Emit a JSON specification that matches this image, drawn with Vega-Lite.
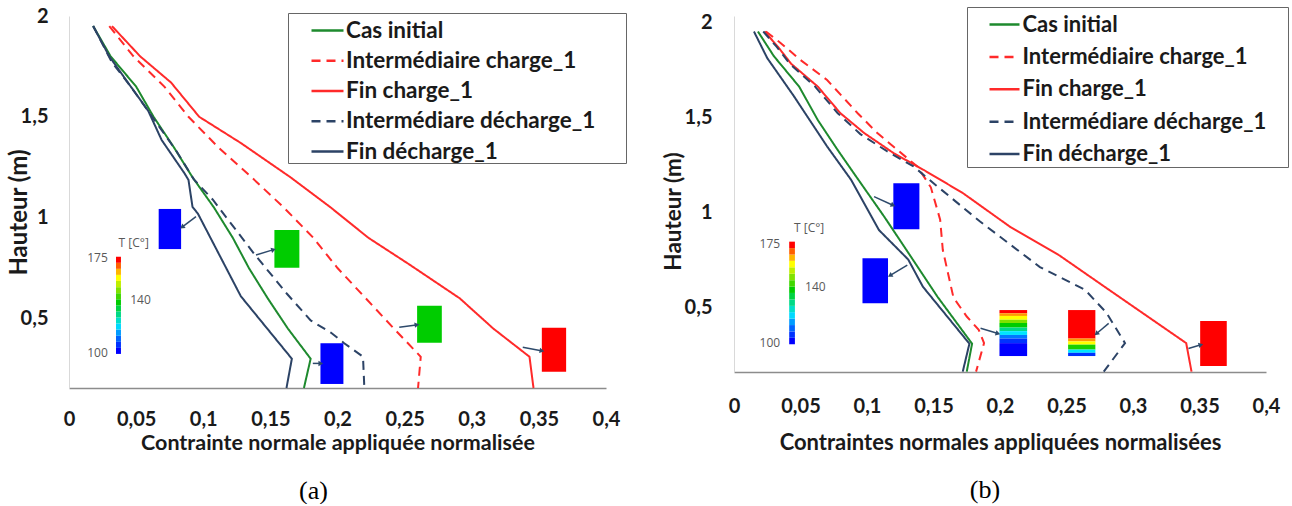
{
  "$schema": "https://vega.github.io/schema/vega-lite/v6.json",
  "background": "#ffffff",
  "padding": {"left": 7, "top": 6, "right": 0, "bottom": 0},
  "spacing": 128,
  "bounds": "flush",
  "config": {"view": {"stroke": null}, "font": "Lato"},
  "resolve": {
    "scale": {"color": "independent", "strokeDash": "independent"},
    "legend": {"color": "independent", "strokeDash": "independent"}
  },
  "datasets": {
    "linesA": [
      {"s": "Cas initial", "x": 0.018, "y": 1.95}, {"s": "Cas initial", "x": 0.031, "y": 1.80}, {"s": "Cas initial", "x": 0.050, "y": 1.65}, {"s": "Cas initial", "x": 0.063, "y": 1.50}, {"s": "Cas initial", "x": 0.078, "y": 1.35}, {"s": "Cas initial", "x": 0.092, "y": 1.20}, {"s": "Cas initial", "x": 0.108, "y": 1.05}, {"s": "Cas initial", "x": 0.122, "y": 0.90}, {"s": "Cas initial", "x": 0.134, "y": 0.75}, {"s": "Cas initial", "x": 0.148, "y": 0.60}, {"s": "Cas initial", "x": 0.163, "y": 0.45}, {"s": "Cas initial", "x": 0.180, "y": 0.30}, {"s": "Cas initial", "x": 0.175, "y": 0.155},
      {"s": "Intermédiaire charge_1", "x": 0.030, "y": 1.95}, {"s": "Intermédiaire charge_1", "x": 0.048, "y": 1.80}, {"s": "Intermédiaire charge_1", "x": 0.071, "y": 1.65}, {"s": "Intermédiaire charge_1", "x": 0.089, "y": 1.50}, {"s": "Intermédiaire charge_1", "x": 0.111, "y": 1.35}, {"s": "Intermédiaire charge_1", "x": 0.136, "y": 1.20}, {"s": "Intermédiaire charge_1", "x": 0.160, "y": 1.05}, {"s": "Intermédiaire charge_1", "x": 0.182, "y": 0.90}, {"s": "Intermédiaire charge_1", "x": 0.200, "y": 0.75}, {"s": "Intermédiaire charge_1", "x": 0.221, "y": 0.60}, {"s": "Intermédiaire charge_1", "x": 0.242, "y": 0.45}, {"s": "Intermédiaire charge_1", "x": 0.262, "y": 0.31}, {"s": "Intermédiaire charge_1", "x": 0.260, "y": 0.155},
      {"s": "Fin charge_1", "x": 0.032, "y": 1.95}, {"s": "Fin charge_1", "x": 0.053, "y": 1.80}, {"s": "Fin charge_1", "x": 0.076, "y": 1.67}, {"s": "Fin charge_1", "x": 0.097, "y": 1.50}, {"s": "Fin charge_1", "x": 0.128, "y": 1.37}, {"s": "Fin charge_1", "x": 0.165, "y": 1.20}, {"s": "Fin charge_1", "x": 0.195, "y": 1.05}, {"s": "Fin charge_1", "x": 0.223, "y": 0.90}, {"s": "Fin charge_1", "x": 0.253, "y": 0.77}, {"s": "Fin charge_1", "x": 0.291, "y": 0.60}, {"s": "Fin charge_1", "x": 0.316, "y": 0.45}, {"s": "Fin charge_1", "x": 0.343, "y": 0.31}, {"s": "Fin charge_1", "x": 0.346, "y": 0.155},
      {"s": "Intermédiare décharge_1", "x": 0.018, "y": 1.95}, {"s": "Intermédiare décharge_1", "x": 0.032, "y": 1.77}, {"s": "Intermédiare décharge_1", "x": 0.046, "y": 1.65}, {"s": "Intermédiare décharge_1", "x": 0.062, "y": 1.50}, {"s": "Intermédiare décharge_1", "x": 0.080, "y": 1.33}, {"s": "Intermédiare décharge_1", "x": 0.093, "y": 1.19}, {"s": "Intermédiare décharge_1", "x": 0.107, "y": 1.09}, {"s": "Intermédiare décharge_1", "x": 0.138, "y": 0.82}, {"s": "Intermédiare décharge_1", "x": 0.162, "y": 0.625}, {"s": "Intermédiare décharge_1", "x": 0.180, "y": 0.49}, {"s": "Intermédiare décharge_1", "x": 0.195, "y": 0.43}, {"s": "Intermédiare décharge_1", "x": 0.205, "y": 0.377}, {"s": "Intermédiare décharge_1", "x": 0.219, "y": 0.31}, {"s": "Intermédiare décharge_1", "x": 0.220, "y": 0.155},
      {"s": "Fin décharge_1", "x": 0.018, "y": 1.95}, {"s": "Fin décharge_1", "x": 0.030, "y": 1.80}, {"s": "Fin décharge_1", "x": 0.046, "y": 1.65}, {"s": "Fin décharge_1", "x": 0.059, "y": 1.53}, {"s": "Fin décharge_1", "x": 0.069, "y": 1.385}, {"s": "Fin décharge_1", "x": 0.086, "y": 1.22}, {"s": "Fin décharge_1", "x": 0.089, "y": 1.187}, {"s": "Fin décharge_1", "x": 0.092, "y": 1.053}, {"s": "Fin décharge_1", "x": 0.096, "y": 1.02}, {"s": "Fin décharge_1", "x": 0.128, "y": 0.61}, {"s": "Fin décharge_1", "x": 0.166, "y": 0.30}, {"s": "Fin décharge_1", "x": 0.162, "y": 0.155}
    ],
    "linesB": [
      {"s": "Cas initial", "x": 0.018, "y": 1.95}, {"s": "Cas initial", "x": 0.030, "y": 1.82}, {"s": "Cas initial", "x": 0.049, "y": 1.66}, {"s": "Cas initial", "x": 0.063, "y": 1.484}, {"s": "Cas initial", "x": 0.078, "y": 1.326}, {"s": "Cas initial", "x": 0.090, "y": 1.205}, {"s": "Cas initial", "x": 0.113, "y": 0.975}, {"s": "Cas initial", "x": 0.133, "y": 0.765}, {"s": "Cas initial", "x": 0.153, "y": 0.554}, {"s": "Cas initial", "x": 0.179, "y": 0.307}, {"s": "Cas initial", "x": 0.175, "y": 0.16},
      {"s": "Intermédiaire charge_1", "x": 0.024, "y": 1.95}, {"s": "Intermédiaire charge_1", "x": 0.035, "y": 1.89}, {"s": "Intermédiaire charge_1", "x": 0.050, "y": 1.80}, {"s": "Intermédiaire charge_1", "x": 0.070, "y": 1.695}, {"s": "Intermédiaire charge_1", "x": 0.093, "y": 1.52}, {"s": "Intermédiaire charge_1", "x": 0.108, "y": 1.414}, {"s": "Intermédiaire charge_1", "x": 0.123, "y": 1.326}, {"s": "Intermédiaire charge_1", "x": 0.138, "y": 1.238}, {"s": "Intermédiaire charge_1", "x": 0.148, "y": 1.13}, {"s": "Intermédiaire charge_1", "x": 0.155, "y": 0.96}, {"s": "Intermédiaire charge_1", "x": 0.157, "y": 0.80}, {"s": "Intermédiaire charge_1", "x": 0.165, "y": 0.55}, {"s": "Intermédiaire charge_1", "x": 0.175, "y": 0.45}, {"s": "Intermédiaire charge_1", "x": 0.184, "y": 0.38}, {"s": "Intermédiaire charge_1", "x": 0.188, "y": 0.31}, {"s": "Intermédiaire charge_1", "x": 0.182, "y": 0.16},
      {"s": "Fin charge_1", "x": 0.023, "y": 1.95}, {"s": "Fin charge_1", "x": 0.033, "y": 1.87}, {"s": "Fin charge_1", "x": 0.043, "y": 1.78}, {"s": "Fin charge_1", "x": 0.063, "y": 1.66}, {"s": "Fin charge_1", "x": 0.080, "y": 1.52}, {"s": "Fin charge_1", "x": 0.098, "y": 1.415}, {"s": "Fin charge_1", "x": 0.120, "y": 1.31}, {"s": "Fin charge_1", "x": 0.143, "y": 1.22}, {"s": "Fin charge_1", "x": 0.172, "y": 1.10}, {"s": "Fin charge_1", "x": 0.208, "y": 0.92}, {"s": "Fin charge_1", "x": 0.245, "y": 0.77}, {"s": "Fin charge_1", "x": 0.280, "y": 0.60}, {"s": "Fin charge_1", "x": 0.340, "y": 0.31}, {"s": "Fin charge_1", "x": 0.344, "y": 0.16},
      {"s": "Intermédiare décharge_1", "x": 0.022, "y": 1.95}, {"s": "Intermédiare décharge_1", "x": 0.032, "y": 1.87}, {"s": "Intermédiare décharge_1", "x": 0.042, "y": 1.78}, {"s": "Intermédiare décharge_1", "x": 0.061, "y": 1.66}, {"s": "Intermédiare décharge_1", "x": 0.078, "y": 1.52}, {"s": "Intermédiare décharge_1", "x": 0.095, "y": 1.41}, {"s": "Intermédiare décharge_1", "x": 0.115, "y": 1.32}, {"s": "Intermédiare décharge_1", "x": 0.135, "y": 1.24}, {"s": "Intermédiare décharge_1", "x": 0.152, "y": 1.14}, {"s": "Intermédiare décharge_1", "x": 0.185, "y": 0.95}, {"s": "Intermédiare décharge_1", "x": 0.230, "y": 0.71}, {"s": "Intermédiare décharge_1", "x": 0.264, "y": 0.59}, {"s": "Intermédiare décharge_1", "x": 0.280, "y": 0.47}, {"s": "Intermédiare décharge_1", "x": 0.294, "y": 0.31}, {"s": "Intermédiare décharge_1", "x": 0.278, "y": 0.16},
      {"s": "Fin décharge_1", "x": 0.015, "y": 1.95}, {"s": "Fin décharge_1", "x": 0.025, "y": 1.81}, {"s": "Fin décharge_1", "x": 0.045, "y": 1.61}, {"s": "Fin décharge_1", "x": 0.070, "y": 1.345}, {"s": "Fin décharge_1", "x": 0.088, "y": 1.17}, {"s": "Fin décharge_1", "x": 0.109, "y": 0.905}, {"s": "Fin décharge_1", "x": 0.131, "y": 0.75}, {"s": "Fin décharge_1", "x": 0.142, "y": 0.607}, {"s": "Fin décharge_1", "x": 0.177, "y": 0.307}, {"s": "Fin décharge_1", "x": 0.172, "y": 0.16}
    ],
    "rectA": [
      {"x": 0.0668, "x2": 0.0835, "y": 0.844, "y2": 1.043, "T": 100},
      {"x": 0.153, "x2": 0.1716, "y": 0.752, "y2": 0.939, "T": 140},
      {"x": 0.1873, "x2": 0.2044, "y": 0.175, "y2": 0.377, "T": 100},
      {"x": 0.2593, "x2": 0.2777, "y": 0.380, "y2": 0.563, "T": 140},
      {"x": 0.3522, "x2": 0.3703, "y": 0.236, "y2": 0.454, "T": 175},
      {"x": 0.035, "x2": 0.0387, "y": 0.324, "y2": 0.354, "T": 100},
      {"x": 0.035, "x2": 0.0387, "y": 0.354, "y2": 0.384, "T": 105},
      {"x": 0.035, "x2": 0.0387, "y": 0.384, "y2": 0.414, "T": 110},
      {"x": 0.035, "x2": 0.0387, "y": 0.414, "y2": 0.445, "T": 115},
      {"x": 0.035, "x2": 0.0387, "y": 0.445, "y2": 0.475, "T": 120},
      {"x": 0.035, "x2": 0.0387, "y": 0.475, "y2": 0.505, "T": 125},
      {"x": 0.035, "x2": 0.0387, "y": 0.505, "y2": 0.535, "T": 130},
      {"x": 0.035, "x2": 0.0387, "y": 0.535, "y2": 0.565, "T": 135},
      {"x": 0.035, "x2": 0.0387, "y": 0.565, "y2": 0.595, "T": 140},
      {"x": 0.035, "x2": 0.0387, "y": 0.595, "y2": 0.625, "T": 145},
      {"x": 0.035, "x2": 0.0387, "y": 0.625, "y2": 0.655, "T": 150},
      {"x": 0.035, "x2": 0.0387, "y": 0.655, "y2": 0.686, "T": 155},
      {"x": 0.035, "x2": 0.0387, "y": 0.686, "y2": 0.716, "T": 160},
      {"x": 0.035, "x2": 0.0387, "y": 0.716, "y2": 0.746, "T": 165},
      {"x": 0.035, "x2": 0.0387, "y": 0.746, "y2": 0.776, "T": 170},
      {"x": 0.035, "x2": 0.0387, "y": 0.776, "y2": 0.806, "T": 175}
    ],
    "rectB": [
      {"x": 0.1198, "x2": 0.1394, "y": 0.909, "y2": 1.151, "T": 100},
      {"x": 0.0966, "x2": 0.1158, "y": 0.5195, "y2": 0.756, "T": 100},
      {"x": 0.3505, "x2": 0.3705, "y": 0.189, "y2": 0.426, "T": 175},
      {"x": 0.1996, "x2": 0.2204, "y": 0.467, "y2": 0.484, "T": 175},
      {"x": 0.1996, "x2": 0.2204, "y": 0.453, "y2": 0.467, "T": 167},
      {"x": 0.1996, "x2": 0.2204, "y": 0.433, "y2": 0.453, "T": 160},
      {"x": 0.1996, "x2": 0.2204, "y": 0.416, "y2": 0.433, "T": 150},
      {"x": 0.1996, "x2": 0.2204, "y": 0.392, "y2": 0.416, "T": 140},
      {"x": 0.1996, "x2": 0.2204, "y": 0.373, "y2": 0.392, "T": 130},
      {"x": 0.1996, "x2": 0.2204, "y": 0.353, "y2": 0.373, "T": 121},
      {"x": 0.1996, "x2": 0.2204, "y": 0.334, "y2": 0.353, "T": 112},
      {"x": 0.1996, "x2": 0.2204, "y": 0.310, "y2": 0.334, "T": 105},
      {"x": 0.1996, "x2": 0.2204, "y": 0.242, "y2": 0.310, "T": 100},
      {"x": 0.2512, "x2": 0.2717, "y": 0.334, "y2": 0.484, "T": 175},
      {"x": 0.2512, "x2": 0.2717, "y": 0.319, "y2": 0.334, "T": 167},
      {"x": 0.2512, "x2": 0.2717, "y": 0.302, "y2": 0.319, "T": 160},
      {"x": 0.2512, "x2": 0.2717, "y": 0.276, "y2": 0.302, "T": 142},
      {"x": 0.2512, "x2": 0.2717, "y": 0.259, "y2": 0.276, "T": 121},
      {"x": 0.2512, "x2": 0.2717, "y": 0.242, "y2": 0.259, "T": 105},
      {"x": 0.0415, "x2": 0.0458, "y": 0.304, "y2": 0.338, "T": 100},
      {"x": 0.0415, "x2": 0.0458, "y": 0.338, "y2": 0.371, "T": 105},
      {"x": 0.0415, "x2": 0.0458, "y": 0.371, "y2": 0.405, "T": 110},
      {"x": 0.0415, "x2": 0.0458, "y": 0.405, "y2": 0.439, "T": 115},
      {"x": 0.0415, "x2": 0.0458, "y": 0.439, "y2": 0.473, "T": 120},
      {"x": 0.0415, "x2": 0.0458, "y": 0.473, "y2": 0.506, "T": 125},
      {"x": 0.0415, "x2": 0.0458, "y": 0.506, "y2": 0.540, "T": 130},
      {"x": 0.0415, "x2": 0.0458, "y": 0.540, "y2": 0.574, "T": 135},
      {"x": 0.0415, "x2": 0.0458, "y": 0.574, "y2": 0.608, "T": 140},
      {"x": 0.0415, "x2": 0.0458, "y": 0.608, "y2": 0.641, "T": 145},
      {"x": 0.0415, "x2": 0.0458, "y": 0.641, "y2": 0.675, "T": 150},
      {"x": 0.0415, "x2": 0.0458, "y": 0.675, "y2": 0.709, "T": 155},
      {"x": 0.0415, "x2": 0.0458, "y": 0.709, "y2": 0.743, "T": 160},
      {"x": 0.0415, "x2": 0.0458, "y": 0.743, "y2": 0.776, "T": 165},
      {"x": 0.0415, "x2": 0.0458, "y": 0.776, "y2": 0.810, "T": 170},
      {"x": 0.0415, "x2": 0.0458, "y": 0.810, "y2": 0.844, "T": 175}
    ],
    "arrA": [
      {"x": 0.0946, "y": 1.005, "x2": 0.0847, "y2": 0.955, "angle": 233},
      {"x": 0.1393, "y": 0.815, "x2": 0.1518, "y2": 0.84, "angle": 73},
      {"x": 0.1816, "y": 0.277, "x2": 0.187, "y2": 0.277, "angle": 90},
      {"x": 0.246, "y": 0.456, "x2": 0.2586, "y2": 0.468, "angle": 82},
      {"x": 0.338, "y": 0.357, "x2": 0.3517, "y2": 0.340, "angle": 100}
    ],
    "arrB": [
      {"x": 0.1053, "y": 1.081, "x2": 0.1191, "y2": 1.037, "angle": 114},
      {"x": 0.1303, "y": 0.721, "x2": 0.1178, "y2": 0.668, "angle": 239},
      {"x": 0.1854, "y": 0.388, "x2": 0.1979, "y2": 0.362, "angle": 107},
      {"x": 0.2817, "y": 0.414, "x2": 0.2729, "y2": 0.362, "angle": 229},
      {"x": 0.3417, "y": 0.282, "x2": 0.3505, "y2": 0.300, "angle": 74}
    ],
    "txtA": [
      {"t": "T [C°]", "x": 0.0482, "y": 0.873},
      {"t": "175", "x": 0.0212, "y": 0.798},
      {"t": "140", "x": 0.0533, "y": 0.591},
      {"t": "100", "x": 0.0212, "y": 0.330}
    ],
    "txtB": [
      {"t": "T [C°]", "x": 0.0565, "y": 0.914},
      {"t": "175", "x": 0.027, "y": 0.832},
      {"t": "140", "x": 0.0612, "y": 0.604},
      {"t": "100", "x": 0.027, "y": 0.312}
    ]
  },
  "hconcat": [
    {
      "width": 537,
      "height": 372,
      "title": {"text": "(a)", "orient": "bottom", "anchor": "middle", "frame": "group", "offset": 24, "dx": -24, "font": "Liberation Serif", "fontSize": 26, "fontWeight": "normal", "color": "#000000"},
      "encoding": {
        "x": {"field": "x", "type": "quantitative", "scale": {"domain": [0, 0.4], "nice": false, "zero": false},
          "axis": {"title": "Contrainte normale appliquée normalisée", "values": [0, 0.05, 0.1, 0.15, 0.2, 0.25, 0.3, 0.35, 0.4], "labelExpr": "replace(toString(datum.value), '.', ',')", "ticks": false, "grid": false, "domainColor": "#8c8c8c", "domainWidth": 1.5, "labelFont": "Lato", "labelFontWeight": "bold", "labelFontSize": 20, "labelColor": "#1a1a1a", "labelBaseline": "middle", "labelPadding": 31, "labelFlush": false, "labelOverlap": false, "titleFont": "Lato", "titleFontWeight": "bold", "titleFontSize": 21.5, "titleColor": "#1a1a1a", "titleBaseline": "middle", "titleY": 55}},
        "y": {"field": "y", "type": "quantitative", "scale": {"domain": [0.155, 2], "nice": false, "zero": false},
          "axis": {"title": "Hauteur (m)", "values": [0.5, 1, 1.5, 2], "labelExpr": "replace(toString(datum.value), '.', ',')", "ticks": false, "grid": false, "domainColor": "#d9d9d9", "domainWidth": 1, "labelFont": "Lato", "labelFontWeight": "bold", "labelFontSize": 20, "labelColor": "#1a1a1a", "labelPadding": 21, "labelFlush": false, "labelOverlap": false, "titleFont": "Lato", "titleFontWeight": "bold", "titleFontSize": 24, "titleColor": "#1a1a1a", "titleX": -50, "titleY": 196, "titleAngle": -90, "titleBaseline": "middle", "titleAlign": "center"}}
      },
      "layer": [
        {
          "data": {"name": "linesA"},
          "mark": {"type": "line", "strokeWidth": 2},
          "encoding": {
            "order": {"field": "y", "sort": "descending"},
            "color": {"field": "s", "type": "nominal",
              "scale": {"domain": ["Cas initial", "Intermédiaire charge_1", "Fin charge_1", "Intermédiare décharge_1", "Fin décharge_1"], "range": ["#1e8a2e", "#ff2a2a", "#ff2a2a", "#2c4366", "#2c4366"]},
              "legend": {"orient": "none", "legendX": 219, "legendY": -3, "title": "\u00a0", "titleOrient": "right", "titlePadding": 31, "titleFontSize": 4, "symbolType": "stroke", "symbolSize": 1024, "symbolStrokeWidth": 2.5, "labelFont": "Lato", "labelFontWeight": "bold", "labelFontSize": 22.5, "labelColor": "#1a1a1a", "labelOffset": 1, "symbolOffset": 22, "rowPadding": 1.25, "padding": 0, "strokeColor": "#666666", "fillColor": "#ffffff", "labelLimit": 500}},
            "strokeDash": {"field": "s", "type": "nominal",
              "scale": {"domain": ["Cas initial", "Intermédiaire charge_1", "Fin charge_1", "Intermédiare décharge_1", "Fin décharge_1"], "range": [[1, 0], [9, 6], [1, 0], [9, 6], [1, 0]]},
              "legend": {"orient": "none", "legendX": 219, "legendY": -3, "title": "\u00a0", "titleOrient": "right", "titlePadding": 31, "titleFontSize": 4, "symbolType": "stroke", "symbolSize": 1024, "symbolStrokeWidth": 2.5, "labelFont": "Lato", "labelFontWeight": "bold", "labelFontSize": 22.5, "labelColor": "#1a1a1a", "labelOffset": 1, "symbolOffset": 22, "rowPadding": 1.25, "padding": 0, "strokeColor": "#666666", "fillColor": "#ffffff", "labelLimit": 500}}
          }
        },
        {
          "data": {"name": "rectA"},
          "mark": {"type": "rect"},
          "encoding": {
            "x2": {"field": "x2"},
            "y2": {"field": "y2"},
            "fill": {"field": "T", "type": "quantitative", "legend": null,
              "scale": {"type": "linear", "domain": [100, 112, 121, 140, 152, 160, 167, 175], "range": ["#0000ff", "#0078ff", "#00e5ff", "#00cc00", "#99e600", "#ffff00", "#ff9900", "#ff0000"], "interpolate": "rgb"}}
          }
        },
        {
          "data": {"name": "arrA"},
          "mark": {"type": "rule", "color": "#2e4a6b", "strokeWidth": 1.5},
          "encoding": {"x2": {"field": "x2"}, "y2": {"field": "y2"}}
        },
        {
          "data": {"name": "arrA"},
          "mark": {"type": "point", "shape": "triangle", "filled": true, "color": "#2e4a6b", "size": 30, "opacity": 1},
          "encoding": {
            "x": {"field": "x2", "type": "quantitative"},
            "y": {"field": "y2", "type": "quantitative"},
            "angle": {"field": "angle", "type": "quantitative", "scale": null}
          }
        },
        {
          "data": {"name": "txtA"},
          "mark": {"type": "text", "font": "Open Sans", "fontSize": 12, "color": "#595959", "align": "center", "baseline": "middle"},
          "encoding": {"text": {"field": "t"}}
        }
      ]
    },
    {
      "width": 532,
      "height": 356,
      "title": {"text": "(b)", "orient": "bottom", "anchor": "middle", "frame": "group", "offset": 24, "dx": -15, "font": "Liberation Serif", "fontSize": 26, "fontWeight": "normal", "color": "#000000"},
      "encoding": {
        "x": {"field": "x", "type": "quantitative", "scale": {"domain": [0, 0.4], "nice": false, "zero": false},
          "axis": {"title": "Contraintes normales appliquées normalisées", "values": [0, 0.05, 0.1, 0.15, 0.2, 0.25, 0.3, 0.35, 0.4], "labelExpr": "replace(toString(datum.value), '.', ',')", "ticks": false, "grid": false, "domainColor": "#8c8c8c", "domainWidth": 1.5, "labelFont": "Lato", "labelFontWeight": "bold", "labelFontSize": 20, "labelColor": "#1a1a1a", "labelBaseline": "middle", "labelPadding": 34, "labelFlush": false, "labelOverlap": false, "titleFont": "Lato", "titleFontWeight": "bold", "titleFontSize": 22, "titleColor": "#1a1a1a", "titleBaseline": "middle", "titleY": 70}},
        "y": {"field": "y", "type": "quantitative", "scale": {"domain": [0.158, 2.0316], "nice": false, "zero": false},
          "axis": {"title": "Hauteur (m)", "values": [0.5, 1, 1.5, 2], "labelExpr": "replace(toString(datum.value), '.', ',')", "ticks": false, "grid": false, "domainColor": "#d9d9d9", "domainWidth": 1, "labelFont": "Lato", "labelFontWeight": "bold", "labelFontSize": 20, "labelColor": "#1a1a1a", "labelPadding": 22, "labelFlush": false, "labelOverlap": false, "titleFont": "Lato", "titleFontWeight": "bold", "titleFontSize": 22.5, "titleColor": "#1a1a1a", "titleX": -61, "titleY": 195, "titleAngle": -90, "titleBaseline": "middle", "titleAlign": "center"}}
      },
      "layer": [
        {
          "data": {"name": "linesB"},
          "mark": {"type": "line", "strokeWidth": 2},
          "encoding": {
            "order": {"field": "y", "sort": "descending"},
            "color": {"field": "s", "type": "nominal",
              "scale": {"domain": ["Cas initial", "Intermédiaire charge_1", "Fin charge_1", "Intermédiare décharge_1", "Fin décharge_1"], "range": ["#1e8a2e", "#ff2a2a", "#ff2a2a", "#2c4366", "#2c4366"]},
              "legend": {"orient": "none", "legendX": 233, "legendY": -9, "title": "\u00a0", "titleOrient": "right", "titlePadding": 21, "titleFontSize": 4, "symbolType": "stroke", "symbolSize": 900, "symbolStrokeWidth": 2.5, "labelFont": "Lato", "labelFontWeight": "bold", "labelFontSize": 22, "labelColor": "#1a1a1a", "labelOffset": 1.5, "symbolOffset": 20, "rowPadding": 4.4, "padding": 1, "strokeColor": "#666666", "fillColor": "#ffffff", "labelLimit": 500}},
            "strokeDash": {"field": "s", "type": "nominal",
              "scale": {"domain": ["Cas initial", "Intermédiaire charge_1", "Fin charge_1", "Intermédiare décharge_1", "Fin décharge_1"], "range": [[1, 0], [9, 6], [1, 0], [9, 6], [1, 0]]},
              "legend": {"orient": "none", "legendX": 233, "legendY": -9, "title": "\u00a0", "titleOrient": "right", "titlePadding": 21, "titleFontSize": 4, "symbolType": "stroke", "symbolSize": 900, "symbolStrokeWidth": 2.5, "labelFont": "Lato", "labelFontWeight": "bold", "labelFontSize": 22, "labelColor": "#1a1a1a", "labelOffset": 1.5, "symbolOffset": 20, "rowPadding": 4.4, "padding": 1, "strokeColor": "#666666", "fillColor": "#ffffff", "labelLimit": 500}}
          }
        },
        {
          "data": {"name": "rectB"},
          "mark": {"type": "rect"},
          "encoding": {
            "x2": {"field": "x2"},
            "y2": {"field": "y2"},
            "fill": {"field": "T", "type": "quantitative", "legend": null,
              "scale": {"type": "linear", "domain": [100, 112, 121, 140, 152, 160, 167, 175], "range": ["#0000ff", "#0078ff", "#00e5ff", "#00cc00", "#99e600", "#ffff00", "#ff9900", "#ff0000"], "interpolate": "rgb"}}
          }
        },
        {
          "data": {"name": "arrB"},
          "mark": {"type": "rule", "color": "#2e4a6b", "strokeWidth": 1.5},
          "encoding": {"x2": {"field": "x2"}, "y2": {"field": "y2"}}
        },
        {
          "data": {"name": "arrB"},
          "mark": {"type": "point", "shape": "triangle", "filled": true, "color": "#2e4a6b", "size": 30, "opacity": 1},
          "encoding": {
            "x": {"field": "x2", "type": "quantitative"},
            "y": {"field": "y2", "type": "quantitative"},
            "angle": {"field": "angle", "type": "quantitative", "scale": null}
          }
        },
        {
          "data": {"name": "txtB"},
          "mark": {"type": "text", "font": "Open Sans", "fontSize": 12, "color": "#595959", "align": "center", "baseline": "middle"},
          "encoding": {"text": {"field": "t"}}
        }
      ]
    }
  ]
}
